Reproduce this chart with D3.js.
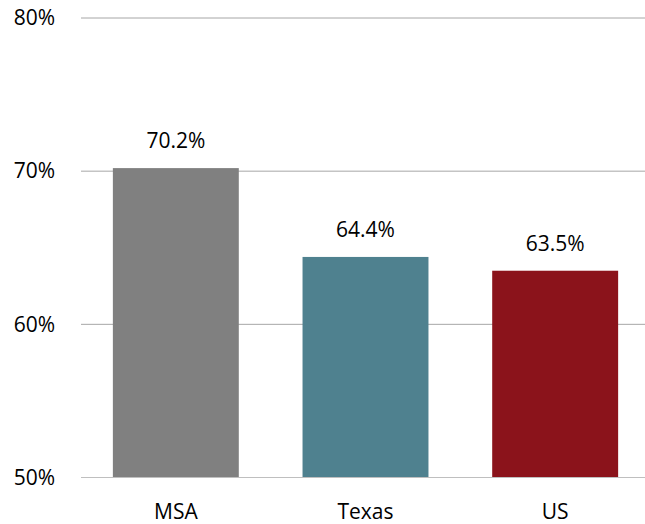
<!DOCTYPE html>
<html>
<head>
<meta charset="utf-8">
<script src="https://cdn.jsdelivr.net/npm/d3@7"></script>
<style>
  html, body { margin: 0; padding: 0; background: #fff; }
  svg { display: block; }
  text { font-family: "Open Sans", "Noto Sans", sans-serif; fill: #000; }
</style>
</head>
<body>
<svg id="chart" width="645" height="524"></svg>
<script>
const categories = ["MSA", "Texas", "US"];
const values = [70.2, 64.4, 63.5];
const colors = ["#808080", "#4f818f", "#8b131b"];
const yTicks = [50, 60, 70, 80];

(function () {
const svg = d3.select("#chart");
const mLeft = 81, mRight = 650, mTop = 18, mBottom = 477.5;

const x = d3.scaleBand().domain(categories).range([mLeft, mRight])
  .paddingInner(0.336).paddingOuter(0.168);
const y = d3.scaleLinear().domain([50, 80]).range([mBottom, mTop]);

// gridlines
svg.append("g").selectAll("line").data(yTicks).join("line")
  .attr("x1", mLeft).attr("x2", mRight)
  .attr("y1", d => y(d)).attr("y2", d => y(d))
  .attr("stroke", d => d === 50 ? "#bfbfbf" : "#a6a6a6")
  .attr("stroke-width", 1);

// y labels
const yAxis = d3.axisLeft(y).tickValues(yTicks).tickFormat(d => d + "%").tickSize(0).tickPadding(0);
const ga = svg.append("g").attr("transform", "translate(55,0)").call(yAxis);
ga.select(".domain").remove();
ga.selectAll("text").attr("font-size", 21).attr("font-family", '"Open Sans", sans-serif').attr("fill", "#000");

// bars
svg.append("g").selectAll("rect").data(categories).join("rect")
  .attr("x", d => x(d))
  .attr("width", x.bandwidth())
  .attr("y", (d, i) => y(values[i]))
  .attr("height", (d, i) => y(50) - y(values[i]))
  .attr("fill", (d, i) => colors[i]);

// baseline over bars
svg.append("line").attr("x1", mLeft).attr("x2", mRight)
  .attr("y1", y(50)).attr("y2", y(50)).attr("stroke", "#bfbfbf").attr("stroke-width", 1);

// value labels
svg.append("g").selectAll("text").data(categories).join("text")
  .attr("x", d => x(d) + x.bandwidth() / 2)
  .attr("y", (d, i) => y(values[i]) - 20)
  .attr("text-anchor", "middle")
  .attr("font-size", 21)
  .text((d, i) => values[i].toFixed(1) + "%");

// x labels
const xAxis = d3.axisBottom(x).tickSize(0).tickPadding(0);
const gx = svg.append("g").attr("transform", "translate(0," + mBottom + ")").call(xAxis);
gx.select(".domain").remove();
gx.selectAll("text").attr("font-size", 21).attr("font-family", '"Open Sans", sans-serif')
  .attr("fill", "#000").attr("dy", null).attr("y", 41.5);
})();
</script>
</body>
</html>
